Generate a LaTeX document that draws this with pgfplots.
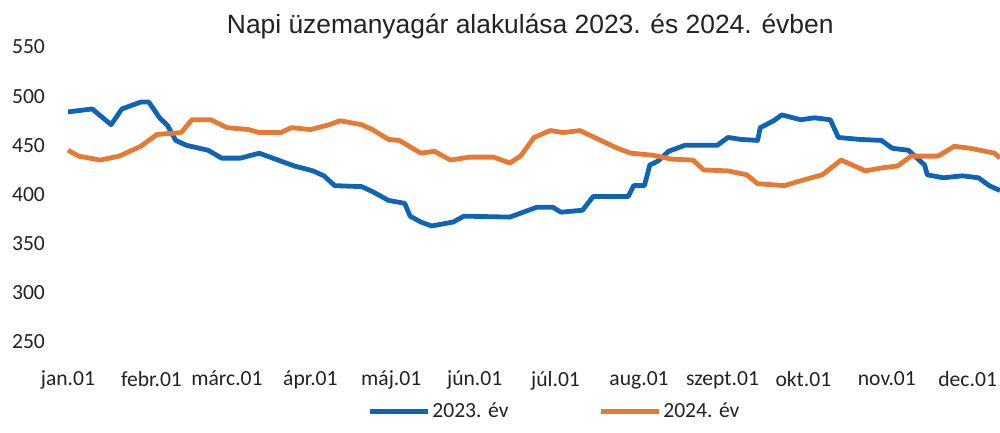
\documentclass[border=0pt]{standalone}
\usepackage{pgfplots}
\pgfplotsset{compat=1.18}
\usepackage{fontspec}
\setmainfont{Carlito}
\newfontfamily\titlefont{Liberation Sans}
\usetikzlibrary{calc}
\definecolor{c23}{HTML}{1064B4}
\definecolor{c24}{HTML}{E47A34}
\definecolor{ink}{HTML}{222222}

\begin{document}
\begin{tikzpicture}
\begin{axis}[
  name=ax,
  scale only axis,
  width=466pt, height=147.5pt,
  xmin=0, xmax=346, ymin=250, ymax=550,
  axis line style={draw=none},
  tick style={draw=none},
  /pgf/number format/assume math mode=true,
  tick label style={font=\fontsize{10.8}{12}\selectfont, color=ink},
  ytick={250,300,...,550},
  yticklabel style={anchor=east, xshift=-8pt},
  xtick={0,31,59,90,120,151,181,212,243,273,304,334},
  xticklabels={jan.01,febr.01,márc.01,ápr.01,máj.01,jún.01,júl.01,aug.01,szept.01,okt.01,nov.01,dec.01},
  xticklabel style={anchor=north, yshift=-11pt},
  title={\titlefont\fontsize{13.2}{15}\selectfont Napi üzemanyagár alakulása 2023. és 2024. évben},
  title style={at={(0.496,1)}, anchor=south, yshift=-5.5pt, color=ink},
  legend style={at={(0.522,-0.235)}, anchor=center, draw=none, legend columns=2,
    font=\fontsize{10.8}{12}\selectfont, text=ink,
    nodes={inner xsep=1pt},
    /tikz/every even column/.append style={column sep=44pt}},
  legend image code/.code={\draw[#1, line width=2.4pt] (0pt,0pt) -- (29pt,0pt);},
  clip=false,
]
\addplot[c23, line width=2.4pt, line join=round] coordinates {
(0,484)(9,487)(16,471)(20,487)(27,494)(30,494)(34,478)(37,470)(40,455)(44,450)
(52,445)(57,437)(64,437)(71,442)(79,434)(84,429)(91,424)(95,419)(99,409)(109,408)
(113,403)(119,394)(125,391)(127,378)(131,372)(135,368)(143,372)(147,378)(164,377)(167,380)
(174,387)(180,387)(183,382)(191,384)(195,398)(208,398)(210,409)(214,409)(216,430)(219,434)
(223,444)(229,450)(241,450)(245,458)(250,456)(256,455)(257,468)(262,475)(265,481)(272,476)
(277,478)(283,476)(286,458)(294,456)(302,455)(306,447)(312,445)(318,430)(319,420)(325,417)
(332,419)(338,417)(342,409)(346,404)};
\addplot[c24, line width=2.4pt, line join=round] coordinates {
(0,445)(4,439)(12,435)(19,439)(27,449)(33,461)(42,463)(46,476)(53,476)(59,468)
(67,466)(71,463)(79,463)(83,468)(90,466)(97,471)(101,475)(109,471)(113,466)(119,456)
(123,455)(131,442)(136,444)(142,435)(149,438)(158,438)(164,432)(168,439)(173,458)(179,465)
(184,463)(190,465)(197,456)(204,447)(209,442)(217,440)(224,436)(232,435)(236,425)(245,424)
(252,420)(256,411)(266,409)(272,414)(280,420)(287,435)(292,429)(296,424)(302,427)(308,429)
(313,439)(323,439)(329,449)(335,447)(344,442)(346,437)};
\legend{2023. év,2024. év}
\end{axis}
\pgfresetboundingbox
\useasboundingbox ($(ax.south west)+(-34pt,-45.5pt)$) rectangle ($(ax.north east)+(0pt,23.5pt)$);
\end{tikzpicture}
\end{document}
